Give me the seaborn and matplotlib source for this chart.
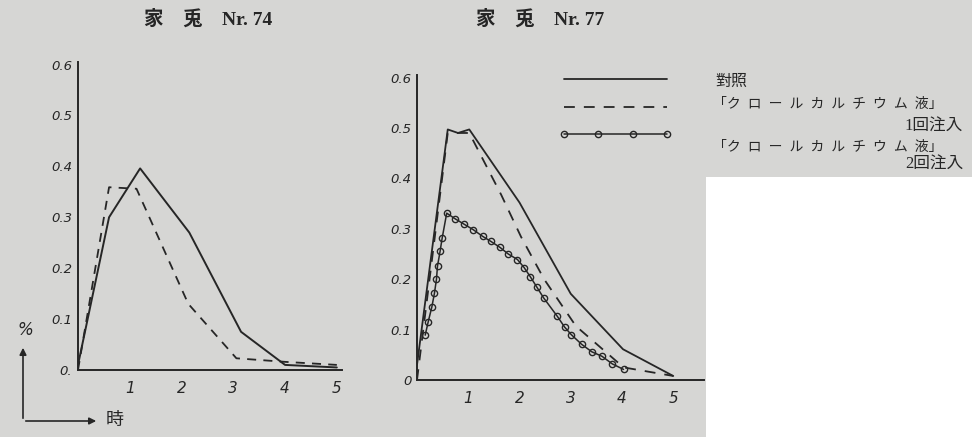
import pandas as pd
import seaborn as sns
import matplotlib
matplotlib.use('Agg')
import matplotlib.pyplot as plt
from matplotlib.patches import Rectangle, FancyArrowPatch

# --- data (time in hours, value in %) ---
t74_ctrl = [0, 0.6, 1.2, 2.15, 3.15, 4.0, 5.0]
v74_ctrl = [0.01, 0.30, 0.396, 0.27, 0.075, 0.01, 0.005]
t74_inj1 = [0, 0.6, 1.13, 2.13, 3.06, 4.0, 5.0]
v74_inj1 = [0.0, 0.359, 0.356, 0.13, 0.023, 0.016, 0.01]

t77_ctrl = [0, 0.6, 0.8, 1.02, 2.0, 3.0, 4.02, 5.0]
v77_ctrl = [0.03, 0.497, 0.49, 0.497, 0.352, 0.171, 0.061, 0.008]
t77_inj1 = [0, 0.6, 1.02, 1.64, 2.03, 2.48, 3.1, 4.03, 5.0]
v77_inj1 = [0.0, 0.49, 0.49, 0.368, 0.284, 0.2, 0.107, 0.025, 0.008]
t77_inj2 = [0.16, 0.22, 0.29, 0.34, 0.38, 0.40, 0.45, 0.49, 0.58, 0.74, 0.92,
            1.10, 1.28, 1.44, 1.62, 1.78, 1.96, 2.09, 2.21, 2.34, 2.47, 2.74,
            2.88, 3.01, 3.21, 3.41, 3.61, 3.81, 4.03]
v77_inj2 = [0.089, 0.116, 0.145, 0.172, 0.2, 0.226, 0.255, 0.281, 0.331, 0.32,
            0.309, 0.298, 0.285, 0.275, 0.263, 0.25, 0.239, 0.223, 0.205, 0.184,
            0.163, 0.126, 0.105, 0.09, 0.071, 0.056, 0.047, 0.032, 0.021]

y_ticks = [0, 0.1, 0.2, 0.3, 0.4, 0.5, 0.6]
y_labels_74 = ['0.', '0.1', '0.2', '0.3', '0.4', '0.5', '0.6']
y_labels_77 = ['0', '0.1', '0.2', '0.3', '0.4', '0.5', '0.6']
x_ticks = [1, 2, 3, 4, 5]
x_labels = ['1', '2', '3', '4', '5']

legend_lines = ['對照', '「ク  ロ  ー  ル  カ  ル  チ  ウ  ム  液」', '1回注入',
                '「ク  ロ  ー  ル  カ  ル  チ  ウ  ム  液」', '2回注入']

bg = '#d6d6d4'
ink = '#262626'
jp = ['Liberation Serif', 'Noto Sans CJK JP', 'DejaVu Sans']

sns.set_style('white')
plt.rcParams['font.family'] = ['DejaVu Sans', 'Noto Sans CJK JP']

fig = plt.figure(figsize=(9.72, 4.37), dpi=100, facecolor=bg)
W, H = 972, 437
ax1 = fig.add_axes([78 / W, 1 - 370 / H, 264 / W, 308 / H])
ax2 = fig.add_axes([417 / W, 1 - 380 / H, 287 / W, 305 / H])

df74a = pd.DataFrame({'t': t74_ctrl, 'v': v74_ctrl})
df74b = pd.DataFrame({'t': t74_inj1, 'v': v74_inj1})
sns.lineplot(data=df74a, x='t', y='v', ax=ax1, color=ink, lw=1.4, sort=False)
sns.lineplot(data=df74b, x='t', y='v', ax=ax1, color=ink, lw=1.3, sort=False,
             linestyle=(0, (5, 4)))

df77a = pd.DataFrame({'t': t77_ctrl, 'v': v77_ctrl})
df77b = pd.DataFrame({'t': t77_inj1, 'v': v77_inj1})
df77c = pd.DataFrame({'t': t77_inj2, 'v': v77_inj2})
sns.lineplot(data=df77a, x='t', y='v', ax=ax2, color=ink, lw=1.3, sort=False,
             label=' ')
sns.lineplot(data=df77b, x='t', y='v', ax=ax2, color=ink, lw=1.3, sort=False,
             linestyle=(0, (6, 5)), label='  ')
sns.lineplot(data=df77c, x='t', y='v', ax=ax2, color=ink, lw=1.1, sort=False,
             marker='o', markersize=4.5, markerfacecolor='none',
             markeredgecolor=ink, markeredgewidth=1.0, label='   ')

for ax, xmax, ylabels in [(ax1, 5.1, y_labels_74), (ax2, 5.6, y_labels_77)]:
    ax.set_facecolor('none')
    ax.set_xlim(0, xmax)
    ax.set_ylim(0, 0.605)
    for s in ['top', 'right']:
        ax.spines[s].set_visible(False)
    for s in ['left', 'bottom']:
        ax.spines[s].set_color(ink)
        ax.spines[s].set_linewidth(1.4)
    ax.set_yticks(y_ticks)
    ax.set_yticklabels(ylabels, fontstyle='italic', fontsize=9.5, color=ink)
    ax.set_xticks(x_ticks)
    ax.set_xticklabels(x_labels, fontstyle='italic', fontsize=11, color=ink)
    ax.tick_params(axis='y', direction='in', length=5, width=1.2, color=ink, pad=4)
    ax.tick_params(axis='x', length=0, pad=8)
    ax.set_xlabel('')
    ax.set_ylabel('')

leg = ax2.legend(loc='upper left', bbox_to_anchor=(560 / W, 1 - 73 / H),
                 bbox_transform=fig.transFigure, frameon=False, borderpad=0,
                 borderaxespad=0, handlelength=8, labelspacing=0.98,
                 handletextpad=0, numpoints=4)

# titles
fig.text(208 / W, 1 - 19 / H, '家　兎　Nr. 74', family=jp, fontsize=14,
         fontweight='bold', color=ink, ha='center', va='center')
fig.text(540 / W, 1 - 19 / H, '家　兎　Nr. 77', family=jp, fontsize=14,
         fontweight='bold', color=ink, ha='center', va='center')

# legend texts
fig.text(715 / W, 1 - 82 / H, legend_lines[0], family=jp, fontsize=11.5,
         color=ink, ha='left', va='center')
fig.text(713 / W, 1 - 104 / H, legend_lines[1], family=jp, fontsize=10,
         color=ink, ha='left', va='center')
fig.text(963 / W, 1 - 127 / H, legend_lines[2], family=jp, fontsize=12,
         color=ink, ha='right', va='center')
fig.text(713 / W, 1 - 147 / H, legend_lines[3], family=jp, fontsize=10,
         color=ink, ha='left', va='center')
fig.text(963 / W, 1 - 165 / H, legend_lines[4], family=jp, fontsize=12,
         color=ink, ha='right', va='center')

# unit arrows bottom left
arrow = dict(arrowstyle='-|>', color=ink, lw=1.2, mutation_scale=10)
fig.add_artist(FancyArrowPatch((23 / W, 1 - 421 / H), (23 / W, 1 - 345 / H),
                               transform=fig.transFigure, **arrow))
fig.add_artist(FancyArrowPatch((23 / W, 1 - 421 / H), (99 / W, 1 - 421 / H),
                               transform=fig.transFigure, **arrow))
fig.text(25 / W, 1 - 330 / H, '%', fontstyle='italic', fontsize=12, color=ink,
         ha='center', va='center')
fig.text(115 / W, 1 - 420 / H, '時', family=jp, fontsize=13, color=ink,
         ha='center', va='center')

# blank paper patch at lower right
fig.add_artist(Rectangle((706 / W, 0), 1 - 706 / W, 1 - 177 / H,
                         transform=fig.transFigure, facecolor='white',
                         edgecolor='none'))

fig.savefig('out.png', dpi=100, facecolor=bg)
